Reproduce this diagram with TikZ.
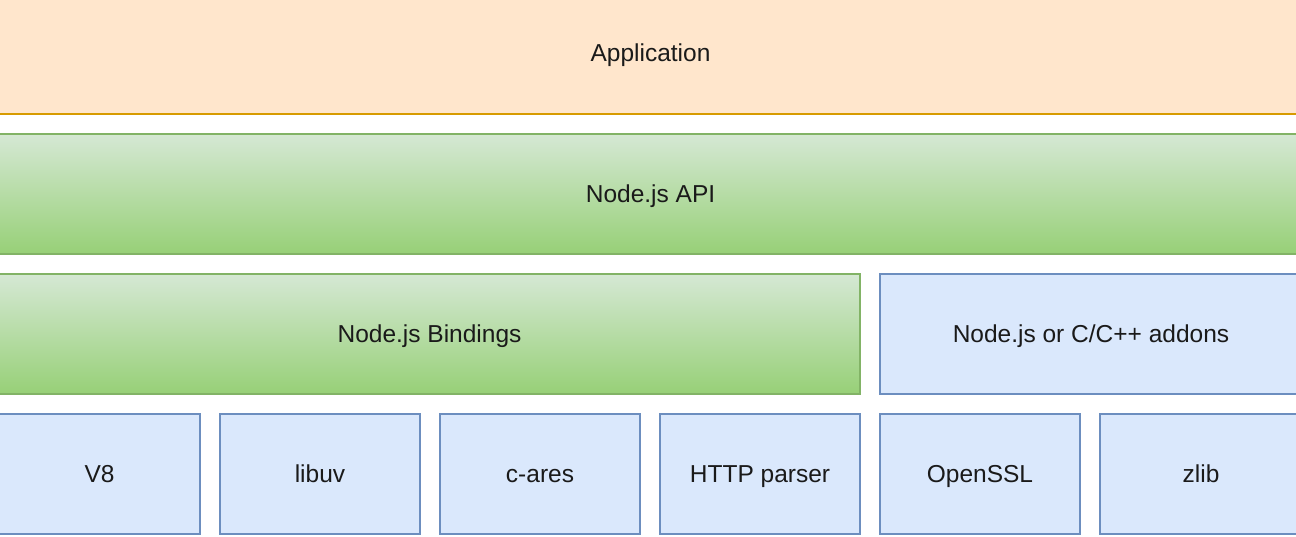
\documentclass[tikz,border=0pt]{standalone}
\usepackage{fontspec}
\setmainfont{Liberation Sans}
\definecolor{appfill}{HTML}{FFE6CC}
\definecolor{appline}{HTML}{D79B00}
\definecolor{gtop}{HTML}{D5E8D4}
\definecolor{gbot}{HTML}{97D077}
\definecolor{gline}{HTML}{82B366}
\definecolor{bfill}{HTML}{DAE8FC}
\definecolor{bline}{HTML}{6C8EBF}
\definecolor{txt}{HTML}{1A1A1A}
\tikzset{
  layer/.style={rectangle, line width=2pt, inner sep=0pt, anchor=north west,
    text=txt, font=\fontsize{24.5}{29}\selectfont, text height=17.5pt, text depth=0pt},
  appbox/.style={layer, fill=appfill, draw=appline},
  greenbox/.style={layer, top color=gtop, bottom color=gbot, draw=gline},
  bluebox/.style={layer, fill=bfill, draw=bline}
}
\begin{document}
\begin{tikzpicture}[x=1pt,y=-1pt]
\useasboundingbox (0,0) rectangle (1296,536);
\clip (0,0) rectangle (1296,536);
\node[appbox, minimum width=1303pt, minimum height=121pt] (app) at (-2,-8.5) {Application};
\node[greenbox, minimum width=1303pt, minimum height=120pt] (api) at (-2,133) {Node.js API};
\node[greenbox, minimum width=861pt, minimum height=120pt] (bind) at (-2,273) {Node.js Bindings};
\node[bluebox, minimum width=422pt, minimum height=120pt] (addons) at (879,273) {Node.js or C/C++ addons};
\node[bluebox, minimum width=201pt, minimum height=120pt] (v8) at (-2,413) {V8};
\node[bluebox, minimum width=200pt, minimum height=120pt] (libuv) at (219,413) {libuv};
\node[bluebox, minimum width=200pt, minimum height=120pt] (cares) at (439,413) {c-ares};
\node[bluebox, minimum width=200pt, minimum height=120pt] (http) at (659,413) {HTTP parser};
\node[bluebox, minimum width=200pt, minimum height=120pt] (ssl) at (879,413) {OpenSSL};
\node[bluebox, minimum width=202pt, minimum height=120pt] (zlib) at (1099,413) {zlib};
\end{tikzpicture}
\end{document}
